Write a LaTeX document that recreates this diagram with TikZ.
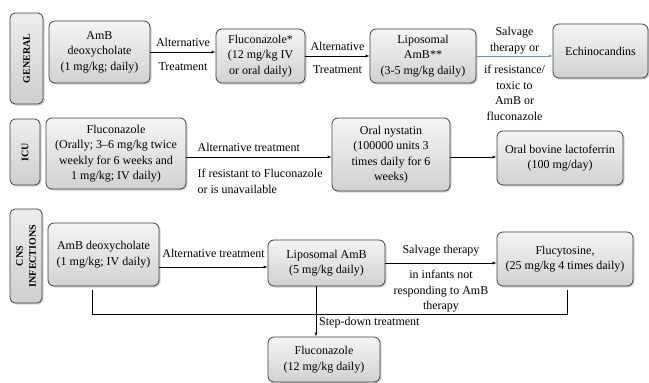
\documentclass[tikz,border=0pt]{standalone}
\usepackage{fontspec}
\setmainfont{Liberation Serif}
\usetikzlibrary{shadows}
\definecolor{linkblue}{RGB}{91,155,213}
\begin{document}
\begin{tikzpicture}[x=1pt,y=-1pt,>=latex,
	box/.style={draw=gray!50!black,line width=0.8pt,rounded corners=6pt,top color=gray!8,bottom color=gray!36,
		drop shadow={opacity=0.35,shadow xshift=1.5pt,shadow yshift=-1.5pt},align=center,inner sep=2pt,
		font=\fontsize{12}{15.5}\selectfont},
	tag/.style={draw=gray!50!black,line width=0.8pt,rounded corners=5pt,top color=gray!14,bottom color=gray!38,
		drop shadow={opacity=0.35,shadow xshift=1.5pt,shadow yshift=-1.5pt}},
	tagtext/.style={font=\bfseries\fontsize{10}{13}\selectfont,align=center,inner sep=0pt},
	lbl/.style={font=\fontsize{12}{15.5}\selectfont,align=center,inner sep=1pt}]
	\useasboundingbox (0,0) rectangle (649,383);
	% general
	\node[tag,minimum width=33,minimum height=91] (gen) at (26.5,58.5) {};
	\node[tagtext,rotate=90] (gentext) at (gen) {GENERAL};
	\node[box,minimum width=101,minimum height=62] (amb1) at (99.5,52) {AmB\\deoxycholate\\(1 mg/kg; daily)};
	\node[box,minimum width=89,minimum height=54] (flu1) at (260.5,56) {Fluconazole*\\(12 mg/kg IV\\or oral daily)};
	\node[box,minimum width=106,minimum height=54] (lip1) at (423,56) {Liposomal\\AmB**\\(3-5 mg/kg daily)};
	\node[box,minimum width=95,minimum height=54] (ech1) at (600.5,51) {Echinocandins};
	\draw[->] (amb1.east) -- (amb1.east -| flu1.west)
		node[lbl,midway,above=4pt] (alt1) {Alternative} node[lbl,midway,below=9pt] (trt1) {Treatment};
	\draw[->] (flu1.east) -- (lip1.west)
		node[lbl,midway,above=4pt] (alt2) {Alternative} node[lbl,midway,below=8pt] (trt2) {Treatment};
	\draw[->,color=linkblue] (lip1.east) -- (lip1.east -| ech1.west)
		node[lbl,midway,above=1pt,text=black] (salv1) {Salvage\\therapy or}
		node[lbl,midway,below=8pt,text=black] (res1) {if resistance/\\toxic to\\AmB or\\fluconazole};
	% icu
	\node[tag,minimum width=30,minimum height=66] (icu) at (25,152) {};
	\node[tagtext,rotate=90] (icutext) at (icu) {ICU};
	\node[box,minimum width=140,minimum height=71] (flu2) at (116,153.5) {Fluconazole\\(Orally; 3--6 mg/kg twice\\weekly for 6 weeks and\\1 mg/kg; IV daily)};
	\node[box,minimum width=118,minimum height=73] (nys2) at (391,154.5) {Oral nystatin\\(100000 units 3\\times daily for 6\\weeks)};
	\node[box,minimum width=126,minimum height=54] (lac2) at (560,158) {Oral bovine lactoferrin\\(100 mg/day)};
	\draw[->] ([yshift=-3.5pt]flu2.east) -- ([yshift=-3.5pt]flu2.east -| nys2.west)
		node[lbl,pos=0,anchor=south west,xshift=10pt,yshift=4pt] (alt3) {Alternative treatment}
		node[lbl,pos=0,anchor=north west,align=left,xshift=10pt,yshift=-11pt] (res2) {If resistant to Fluconazole\\or is unavailable};
	\draw[->] ([yshift=-2.5pt]nys2.east) -- ([yshift=-2.5pt]nys2.east -| lac2.west);
	% cns infections
	\node[tag,minimum width=32,minimum height=94] (cns) at (26,256) {};
	\node[tagtext,rotate=90] (cnstext) at (cns) {CNS\\INFECTIONS};
	\node[box,minimum width=111,minimum height=63] (amb3) at (103.5,254.5) {AmB deoxycholate\\(1 mg/kg; IV daily)};
	\node[box,minimum width=117,minimum height=46] (lip3) at (326.5,263) {Liposomal AmB\\(5 mg/kg daily)};
	\node[box,minimum width=136,minimum height=54] (fcy3) at (565,259) {Flucytosine,\\(25 mg/kg 4 times daily)};
	\node[box,minimum width=112,minimum height=45] (flu3) at (324,359.5) {Fluconazole\\(12 mg/kg daily)};
	\draw[->] ([yshift=-12.5pt]amb3.east) -- ([yshift=-12.5pt]amb3.east -| lip3.west)
		node[lbl,midway,above=8pt] (alt4) {Alternative treatment};
	\draw[->] (lip3.east) -- (lip3.east -| fcy3.west)
		node[lbl,midway,above=6pt] (salv3) {Salvage therapy}
		node[lbl,midway,below=6pt] (inf3) {in infants not\\responding to AmB\\therapy};
	\draw ([xshift=-11.5pt,yshift=-4pt]amb3.south) -- ++(0,24) -| ([xshift=2pt,yshift=-4pt]fcy3.south);
	\draw[->] ([xshift=-10.5pt]lip3.south) -- ([xshift=-10.5pt]lip3.south |- flu3.north)
		node[lbl,pos=0.72,anchor=west,xshift=2pt] (step3) {Step-down treatment};
\end{tikzpicture}
\end{document}
